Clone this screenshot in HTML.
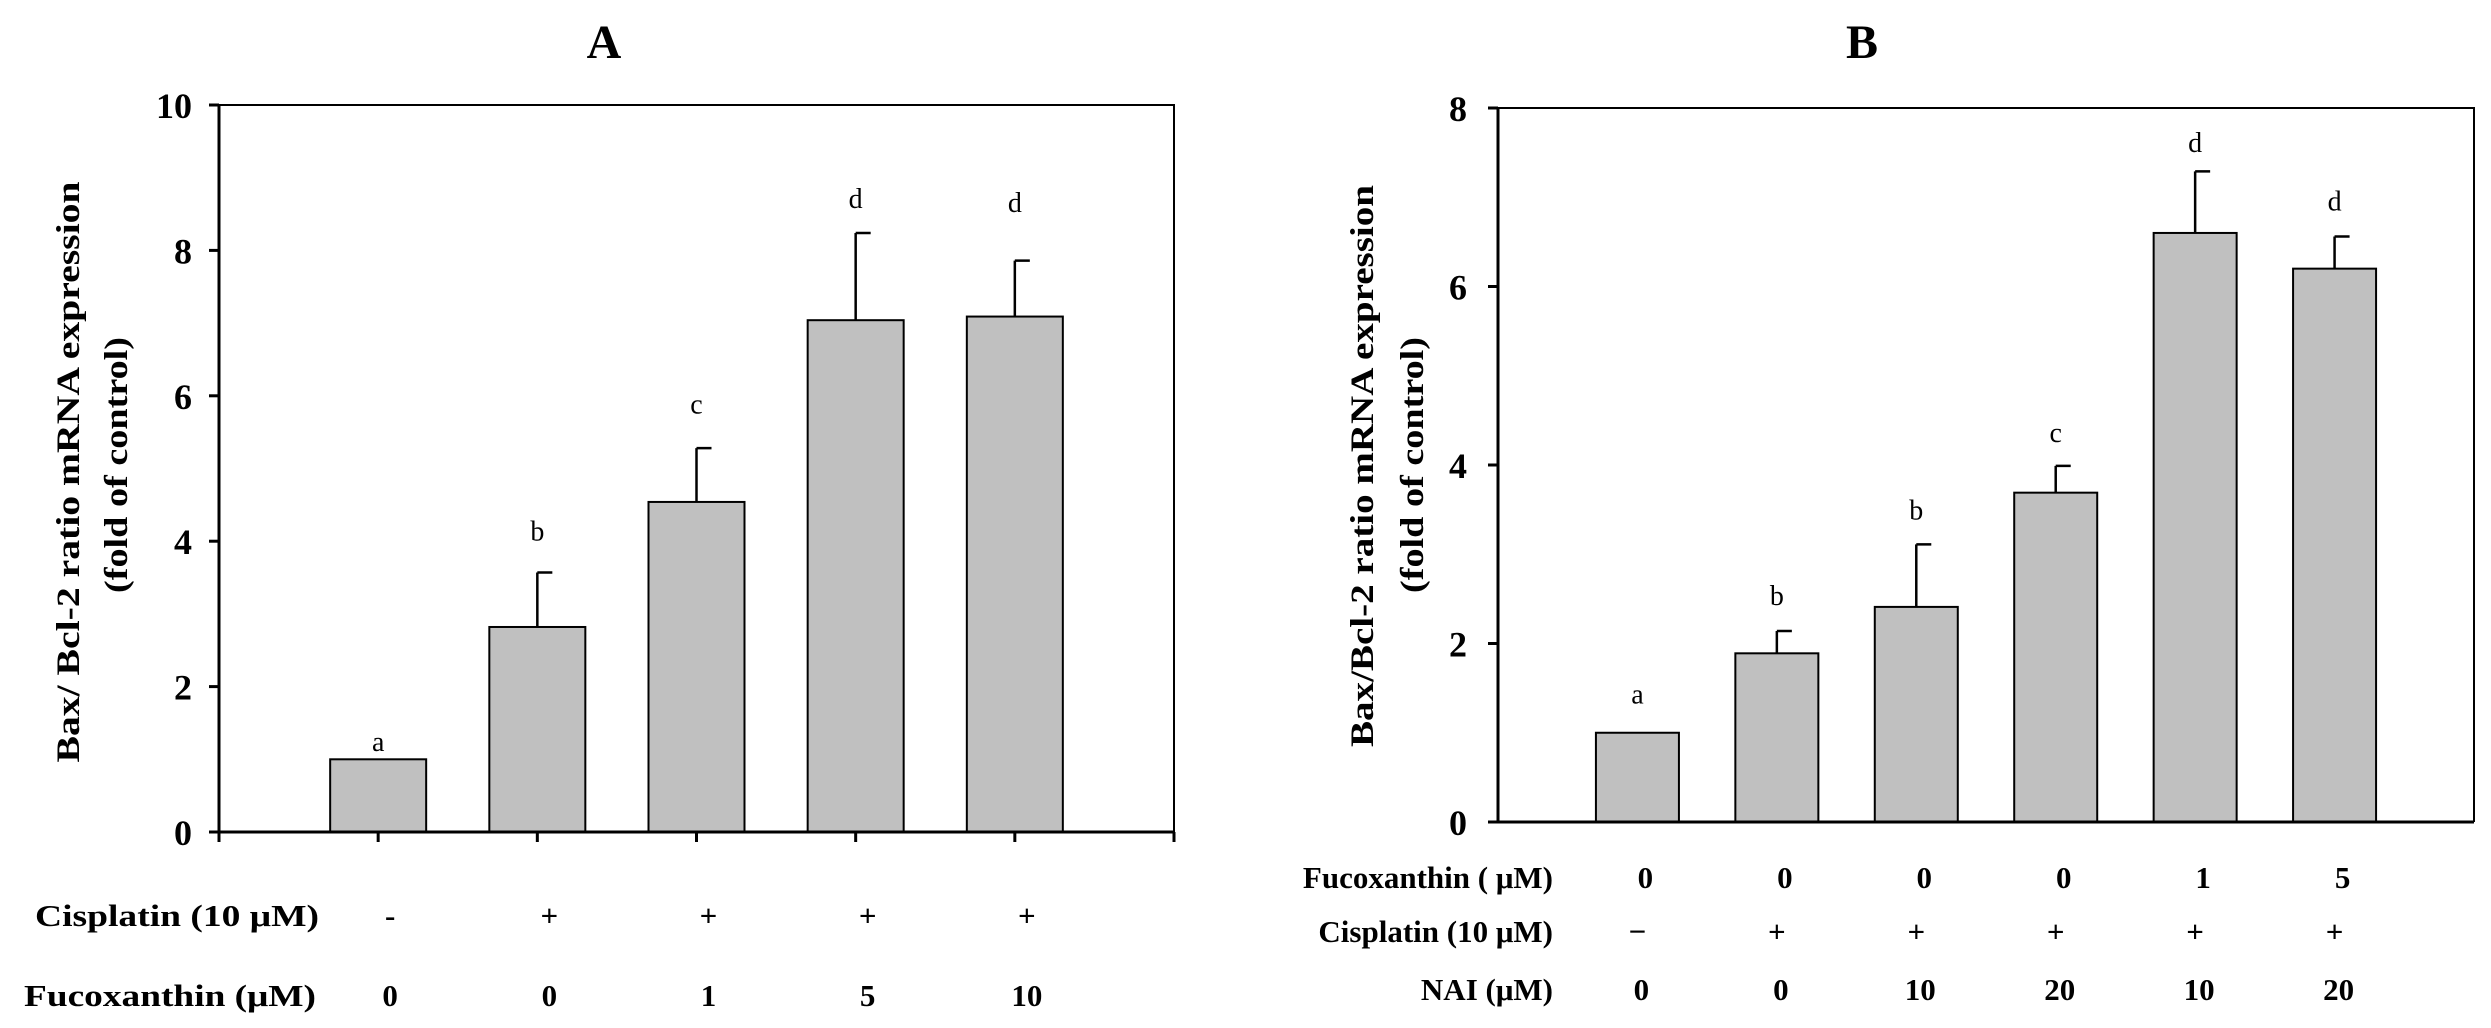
<!DOCTYPE html>
<html><head><meta charset="utf-8"><style>
html,body{margin:0;padding:0;background:#fff;}
svg{display:block;font-family:"Liberation Serif","Times New Roman",serif;}
</style></head><body>
<svg id="fig" width="2491" height="1028" viewBox="0 0 2491 1028" xmlns="http://www.w3.org/2000/svg">
<rect x="0" y="0" width="2491" height="1028" fill="#fff"/>
</svg>
<script>
// Panel A data
const aValues = [1.0, 2.82, 4.54, 7.04, 7.09];
const aErrors = [0, 0.75, 0.74, 1.2, 0.77];
const aLetters = ['a','b','c','d','d'];
const aLetterPos = [1.24, 4.13, 5.88, 8.71, 8.65];
const aYTicks = [0, 2, 4, 6, 8, 10];
const aCisplatin = ['-','+','+','+','+'];
const aFucox = ['0','0','1','5','10'];
// Panel B data
const bValues = [1.0, 1.89, 2.41, 3.69, 6.60, 6.20];
const bErrors = [0, 0.25, 0.70, 0.30, 0.69, 0.36];
const bLetters = ['a','b','b','c','d','d'];
const bLetterPos = [1.43, 2.53, 3.49, 4.36, 7.61, 6.95];
const bYTicks = [0, 2, 4, 6, 8];
const bFucox = ['0','0','0','0','1','5'];
const bCisplatin = ['\u2212','+','+','+','+','+'];
const bNai = ['0','0','10','20','10','20'];

const svg = document.getElementById('fig');
const NS = 'http://www.w3.org/2000/svg';
function mk(tag, attrs, parent){
  const e = document.createElementNS(NS, tag);
  for (const k in attrs) e.setAttribute(k, attrs[k]);
  (parent||svg).appendChild(e);
  return e;
}
function txt(x,y,s,size,weight,anchor,parent){
  const t = mk('text',{x:x,y:y,'font-size':size,'font-weight':weight,'text-anchor':anchor||'middle',fill:'#000'},parent);
  t.textContent = s;
  return t;
}

function panel(cfg){
  const g = mk('g',{});
  
  
  const n = cfg.values.length;
  const step = (cfg.x1 - cfg.x0)/(n+1);
  const xc = i => cfg.x0 + step*(i+1);
  const ys = v => cfg.y0 - (v/cfg.ymax)*(cfg.y0 - cfg.ytop);
  // bars
  cfg.values.forEach((v,i)=>{
    const r = mk('rect',{x:xc(i)-cfg.bw/2,y:ys(v),width:cfg.bw,height:cfg.y0-ys(v),fill:'#c0c0c0',stroke:'#000','stroke-width':2},g);
    
    
    if (cfg.errors[i] > 0){
      const e = mk('path',{d:`M${xc(i)},${ys(v)} V${ys(v+cfg.errors[i])} M${xc(i)},${ys(v+cfg.errors[i])} H${xc(i)+cfg.cap}`,stroke:'#000','stroke-width':2.5,fill:'none'},g);
      
      
    }
    const l = txt(xc(i), ys(cfg.letterPos[i])+9, cfg.letters[i], 28, 'normal', 'middle', g);
    
    
  });
  // axes / box
  const box = mk('path',{d:`M${cfg.x0},${cfg.y0} V${cfg.ytop} H${cfg.x1} V${cfg.y0}`,stroke:'#000','stroke-width':cfg.boxw,fill:'none'},g);
  
  
  const xa = mk('line',{x1:cfg.x0-10,y1:cfg.y0,x2:cfg.x1,y2:cfg.y0,stroke:'#000','stroke-width':3},g);
  
  
  const ya = mk('line',{x1:cfg.x0,y1:cfg.y0,x2:cfg.x0,y2:cfg.ytop,stroke:'#000','stroke-width':3},g);
  
  
  cfg.yticks.forEach(t=>{
    mk('line',{x1:cfg.x0-10,y1:ys(t),x2:cfg.x0,y2:ys(t),stroke:'#000','stroke-width':3},g);
    const tl = txt(cfg.tickRight, ys(t)+13, String(t), 36, 'bold', 'end', g);
    
    
  });
  if (cfg.xticks){
    for (let i=0;i<=n+1;i++){
      const xx = cfg.x0 + step*i;
      mk('line',{x1:xx,y1:cfg.y0,x2:xx,y2:cfg.y0+10,stroke:'#000','stroke-width':3},g);
    }
  }
  // title
  const tt = txt(cfg.titleX, 58, cfg.title, 48, 'bold', 'middle', g);
  
  
  // y axis title
  const t1 = mk('text',{transform:`translate(${cfg.yt1x},${cfg.ytc}) rotate(-90)`,'font-size':33,'font-weight':'bold','text-anchor':'middle',textLength:cfg.yt1len,lengthAdjust:'spacingAndGlyphs'},g);
  t1.textContent = cfg.ytitle1;
  
  
  const t2 = mk('text',{transform:`translate(${cfg.yt2x},${cfg.ytc2}) rotate(-90)`,'font-size':33,'font-weight':'bold','text-anchor':'middle',textLength:256,lengthAdjust:'spacingAndGlyphs'},g);
  t2.textContent = '(fold of control)';
  
  
  // condition rows
  cfg.rows.forEach(row=>{
    const lbl = txt(row.lx, row.y, row.label, 31, 'bold', row.anchor, g);
    
    
    if (row.len) { lbl.setAttribute('textLength', row.len); lbl.setAttribute('lengthAdjust','spacingAndGlyphs'); }
    row.vals.forEach((s,i)=>{
      const v = txt(xc(i)+row.dx, row.y, s, 31, 'bold', 'middle', g);
      
      
    });
  });
}

panel({name:'panel-a', values:aValues, errors:aErrors, letters:aLetters, letterPos:aLetterPos, yticks:aYTicks,
  x0:219, x1:1174, y0:832, ytop:105, ymax:10, bw:96, cap:15, boxw:2, tickRight:192, xticks:true,
  title:'A', titleX:604, ytitle1:'Bax/ Bcl-2 ratio mRNA expression', yt1x:79, ytc:472, yt1len:581, yt2x:127, ytc2:465,
  rows:[
    {label:'Cisplatin (10 \u03bcM)', lx:35, anchor:'start', len:284, y:926, vals:aCisplatin, dx:12},
    {label:'Fucoxanthin (\u03bcM)', lx:24, anchor:'start', len:292, y:1006, vals:aFucox, dx:12}
  ]});

panel({name:'panel-b', values:bValues, errors:bErrors, letters:bLetters, letterPos:bLetterPos, yticks:bYTicks,
  x0:1498, x1:2474, y0:822, ytop:108, ymax:8, bw:83, cap:15, boxw:2, tickRight:1467, xticks:false,
  title:'B', titleX:1862, ytitle1:'Bax/Bcl-2 ratio mRNA expression', yt1x:1373, ytc:466, yt1len:562, yt2x:1423, ytc2:465,
  rows:[
    {label:'Fucoxanthin ( \u03bcM)', lx:1553, anchor:'end', y:888, vals:bFucox, dx:8},
    {label:'Cisplatin (10 \u03bcM)', lx:1553, anchor:'end', y:942, vals:bCisplatin, dx:0},
    {label:'NAI (\u03bcM)', lx:1553, anchor:'end', y:1000, vals:bNai, dx:4}
  ]});
</script>
</body></html>
